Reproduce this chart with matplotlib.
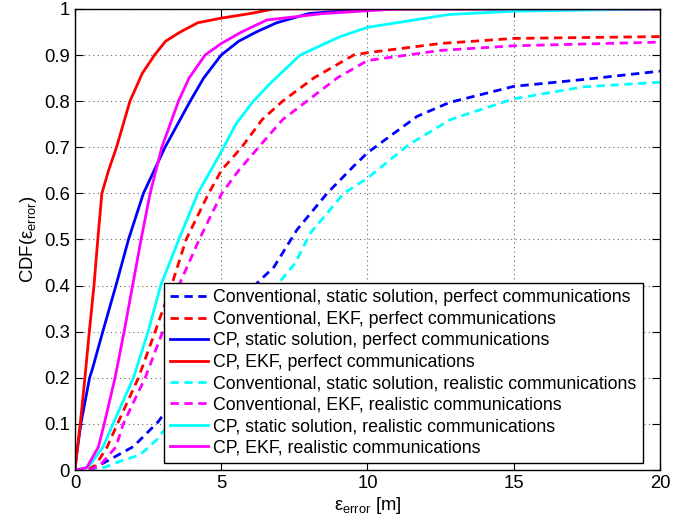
import numpy as np
import matplotlib
matplotlib.use("Agg")
import matplotlib.pyplot as plt

plt.rcParams['font.family'] = ['Liberation Sans', 'DejaVu Sans']
plt.rcParams['mathtext.fontset'] = 'custom'
plt.rcParams['mathtext.rm'] = 'Liberation Sans'
plt.rcParams['mathtext.it'] = 'Liberation Sans:italic'

# CDF curves (x in m, y = CDF)
conv_static_perf_x = [0, 0.5, 0.97, 1.4, 2.0, 2.85, 6.22, 6.8, 7.59, 8.62, 9.53, 10.0, 10.9, 11.7, 12.8, 15.0, 17.4, 20.0]
conv_static_perf_y = [0, 0.0, 0.015, 0.03, 0.051, 0.105, 0.405, 0.44, 0.521, 0.60, 0.659, 0.688, 0.73, 0.767, 0.797, 0.832, 0.847, 0.865]

conv_ekf_perf_x = [0, 0.4, 0.7, 1.1, 1.45, 2.17, 2.74, 3.3, 3.8, 4.57, 5.02, 5.7, 6.4, 7.1, 8.16, 9.53, 10.0, 12.5, 15.0, 20.0]
conv_ekf_perf_y = [0, 0.0, 0.01, 0.05, 0.1, 0.2, 0.3, 0.4, 0.5, 0.6, 0.651, 0.7, 0.76, 0.8, 0.85, 0.9, 0.905, 0.925, 0.936, 0.94]

cp_static_perf_x = [0, 0.05, 0.2, 0.5, 0.6, 0.95, 1.4, 1.83, 2.34, 3.08, 3.94, 4.4, 5.0, 5.6, 6.2, 6.9, 8.0, 10.0, 20.0]
cp_static_perf_y = [0, 0.03, 0.1, 0.2, 0.22, 0.3, 0.4, 0.5, 0.6, 0.7, 0.8, 0.85, 0.9, 0.93, 0.95, 0.97, 0.99, 1.0, 1.0]

cp_ekf_perf_x = [0, 0.05, 0.18, 0.34, 0.49, 0.65, 0.78, 0.92, 1.15, 1.42, 1.88, 2.3, 2.72, 3.1, 3.6, 4.2, 5.0, 6.0, 6.8, 20.0]
cp_ekf_perf_y = [0, 0.03, 0.1, 0.2, 0.3, 0.4, 0.5, 0.6, 0.65, 0.7, 0.8, 0.86, 0.9, 0.93, 0.95, 0.97, 0.98, 0.99, 1.0, 1.0]

conv_static_real_x = [0, 0.7, 1.2, 1.54, 2.23, 2.8, 6.96, 7.53, 8.05, 9.19, 10.0, 11.4, 12.84, 13.5, 15.0, 17.4, 20.0]
conv_static_real_y = [0, 0.0, 0.01, 0.019, 0.033, 0.066, 0.405, 0.449, 0.514, 0.60, 0.633, 0.705, 0.76, 0.774, 0.805, 0.831, 0.841]

conv_ekf_real_x = [0, 0.5, 0.85, 1.4, 1.65, 2.4, 3.0, 3.55, 4.25, 5.02, 5.6, 6.28, 7.1, 7.93, 8.96, 10.0, 12.5, 15.0, 20.0]
conv_ekf_real_y = [0, 0.0, 0.01, 0.05, 0.1, 0.2, 0.3, 0.4, 0.5, 0.6, 0.65, 0.7, 0.76, 0.8, 0.85, 0.888, 0.91, 0.92, 0.928]

cp_static_real_x = [0, 0.3, 0.5, 0.96, 1.3, 2.0, 2.5, 2.93, 3.55, 4.2, 5.0, 5.5, 6.1, 6.7, 7.7, 9.07, 10.0, 12.8, 15.0, 20.0]
cp_static_real_y = [0, 0.003, 0.01, 0.05, 0.1, 0.2, 0.3, 0.4, 0.5, 0.6, 0.69, 0.75, 0.8, 0.84, 0.9, 0.94, 0.96, 0.988, 0.995, 1.0]

cp_ekf_real_x = [0, 0.4, 0.8, 1.0, 1.37, 1.68, 1.97, 2.26, 2.57, 2.97, 3.54, 3.9, 4.45, 5.0, 5.7, 6.56, 8.5, 11.0, 20.0]
cp_ekf_real_y = [0, 0.005, 0.05, 0.1, 0.2, 0.3, 0.4, 0.5, 0.6, 0.7, 0.8, 0.85, 0.9, 0.925, 0.95, 0.976, 0.99, 1.0, 1.0]

labels = [
    "Conventional, static solution, perfect communications",
    "Conventional, EKF, perfect communications",
    "CP, static solution, perfect communications",
    "CP, EKF, perfect communications",
    "Conventional, static solution, realistic communications",
    "Conventional, EKF, realistic communications",
    "CP, static solution, realistic communications",
    "CP, EKF, realistic communications",
]

BLUE, RED, CYAN, MAGENTA = '#0000FF', '#FF0000', '#00FFFF', '#FF00FF'
series = [
    (conv_static_perf_x, conv_static_perf_y, BLUE, '--'),
    (conv_ekf_perf_x, conv_ekf_perf_y, RED, '--'),
    (cp_static_perf_x, cp_static_perf_y, BLUE, '-'),
    (cp_ekf_perf_x, cp_ekf_perf_y, RED, '-'),
    (conv_static_real_x, conv_static_real_y, CYAN, '--'),
    (conv_ekf_real_x, conv_ekf_real_y, MAGENTA, '--'),
    (cp_static_real_x, cp_static_real_y, CYAN, '-'),
    (cp_ekf_real_x, cp_ekf_real_y, MAGENTA, '-'),
]

fig = plt.figure(figsize=(6.91, 5.24), dpi=100)
ax = fig.add_axes([0.1085, 0.103, 0.8465, 0.880])

for (x, y, c, ls), lab in zip(series, labels):
    line, = ax.plot(x, y, color=c, linestyle=ls, linewidth=2, label=lab)
    if ls == '--':
        line.set_dashes((3, 2))

ax.set_xlim(0, 20)
ax.set_ylim(0, 1)
ax.set_xticks([0, 5, 10, 15, 20])
ax.set_yticks(np.arange(0, 1.01, 0.1))
ax.set_yticklabels(['0', '0.1', '0.2', '0.3', '0.4', '0.5', '0.6', '0.7', '0.8', '0.9', '1'])
ax.tick_params(direction='in', top=True, right=True, length=6, labelsize=13.3, width=0.8)
ax.grid(True, linestyle=(0, (1, 3)), color='k', alpha=0.6, linewidth=0.8)
for s in ax.spines.values():
    s.set_linewidth(1)

ax.set_xlabel(r'ε$_{\mathrm{error}}$ [m]', fontsize=13.3, labelpad=2)
ax.set_ylabel(r'CDF(ε$_{\mathrm{error}}$)', fontsize=13.3, labelpad=4)

leg = ax.legend(loc='lower right', bbox_to_anchor=(0.971, 0.016), borderaxespad=0,
                fontsize=12.75, fancybox=False, framealpha=1, edgecolor='k',
                handlelength=2.15, handletextpad=0.3, labelspacing=0.25, borderpad=0.35)
leg.get_frame().set_linewidth(1)

fig.savefig("out.png", dpi=100)
